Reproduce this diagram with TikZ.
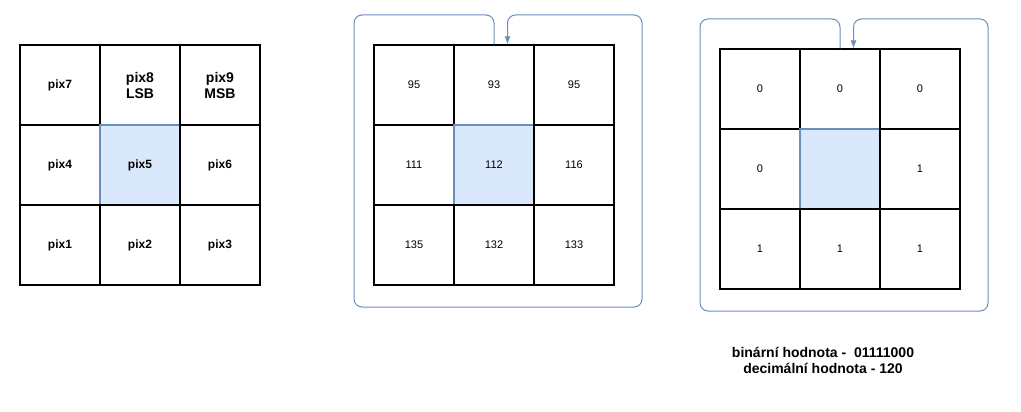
\documentclass[tikz,border=0pt]{standalone}
\usepackage{fontspec}
\setmainfont{Liberation Sans}
\usetikzlibrary{arrows.meta}
\definecolor{midfill}{HTML}{DAE8FC}
\definecolor{midline}{HTML}{6C8EBF}
\begin{document}
\begin{tikzpicture}[x=1pt,y=-1pt]
    \tikzstyle{cell}=[draw=black,line width=1.1pt,minimum size=80pt,inner sep=0pt,fill=white]
    \tikzstyle{mid}=[fill=midfill,draw=midline]
    \tikzstyle{pixname}=[font=\bfseries\fontsize{12}{14}\selectfont,align=center]
    \tikzstyle{bigname}=[font=\bfseries\fontsize{14}{16}\selectfont,align=center]
    \tikzstyle{num}=[font=\fontsize{11}{13}\selectfont]
    \tikzstyle{back}=[draw=midline,line width=1pt,rounded corners=8pt,-{Latex[length=8pt,width=6pt]}]

    \def\dx{80}
    \def\dy{80}

    \useasboundingbox (0,0) rectangle (1021,412);

    % pixel names
    \begin{scope}
    \def\ox{60}
    \def\oy{85}
    \node[cell,pixname]  (p7) at (\ox+0*\dx,\oy+0*\dy) {pix7};
    \node[cell,bigname]  (p8) at (\ox+1*\dx,\oy+0*\dy) {pix8\\LSB};
    \node[cell,bigname]  (p9) at (\ox+2*\dx,\oy+0*\dy) {pix9\\MSB};
    \node[cell,pixname]  (p4) at (\ox+0*\dx,\oy+1*\dy) {pix4};
    \node[cell,mid,pixname]  (p5) at (\ox+1*\dx,\oy+1*\dy) {pix5};
    \node[cell,pixname]  (p6) at (\ox+2*\dx,\oy+1*\dy) {pix6};
    \node[cell,pixname]  (p1) at (\ox+0*\dx,\oy+2*\dy) {pix1};
    \node[cell,pixname]  (p2) at (\ox+1*\dx,\oy+2*\dy) {pix2};
    \node[cell,pixname]  (p3) at (\ox+2*\dx,\oy+2*\dy) {pix3};
    \end{scope}

    % pixel values
    \begin{scope}
    \def\ox{414}
    \def\oy{85}
    \node[cell,num]  (v7) at (\ox+0*\dx,\oy+0*\dy) {95};
    \node[cell,num]  (v8) at (\ox+1*\dx,\oy+0*\dy) {93};
    \node[cell,num]  (v9) at (\ox+2*\dx,\oy+0*\dy) {95};
    \node[cell,num]  (v4) at (\ox+0*\dx,\oy+1*\dy) {111};
    \node[cell,mid,num]  (v5) at (\ox+1*\dx,\oy+1*\dy) {112};
    \node[cell,num]  (v6) at (\ox+2*\dx,\oy+1*\dy) {116};
    \node[cell,num]  (v1) at (\ox+0*\dx,\oy+2*\dy) {135};
    \node[cell,num]  (v2) at (\ox+1*\dx,\oy+2*\dy) {132};
    \node[cell,num]  (v3) at (\ox+2*\dx,\oy+2*\dy) {133};

    \coordinate (v8in) at ([xshift=13.5pt]v8.north);
    \draw [back] (v8.north) |- (\ox-60,\oy-70) |- (\ox+228,\oy+222) -- (\ox+228,\oy-70) -| (v8in);
    \end{scope}

    % thresholded bits
    \begin{scope}
    \def\ox{760}
    \def\oy{89}
    \node[cell,num]  (b7) at (\ox+0*\dx,\oy+0*\dy) {0};
    \node[cell,num]  (b8) at (\ox+1*\dx,\oy+0*\dy) {0};
    \node[cell,num]  (b9) at (\ox+2*\dx,\oy+0*\dy) {0};
    \node[cell,num]  (b4) at (\ox+0*\dx,\oy+1*\dy) {0};
    \node[cell,mid]  (b5) at (\ox+1*\dx,\oy+1*\dy) {};
    \node[cell,num]  (b6) at (\ox+2*\dx,\oy+1*\dy) {1};
    \node[cell,num]  (b1) at (\ox+0*\dx,\oy+2*\dy) {1};
    \node[cell,num]  (b2) at (\ox+1*\dx,\oy+2*\dy) {1};
    \node[cell,num]  (b3) at (\ox+2*\dx,\oy+2*\dy) {1};

    \coordinate (b8in) at ([xshift=13.5pt]b8.north);
    \draw [back] (b8.north) |- (\ox-60,\oy-70) |- (\ox+228,\oy+222) -- (\ox+228,\oy-70) -| (b8in);
    \end{scope}

    \node[bigname] (result) at (823,360) {bin\'arn\'i hodnota -\ \ 01111000\\decim\'aln\'i hodnota - 120};

\end{tikzpicture}
\end{document}
